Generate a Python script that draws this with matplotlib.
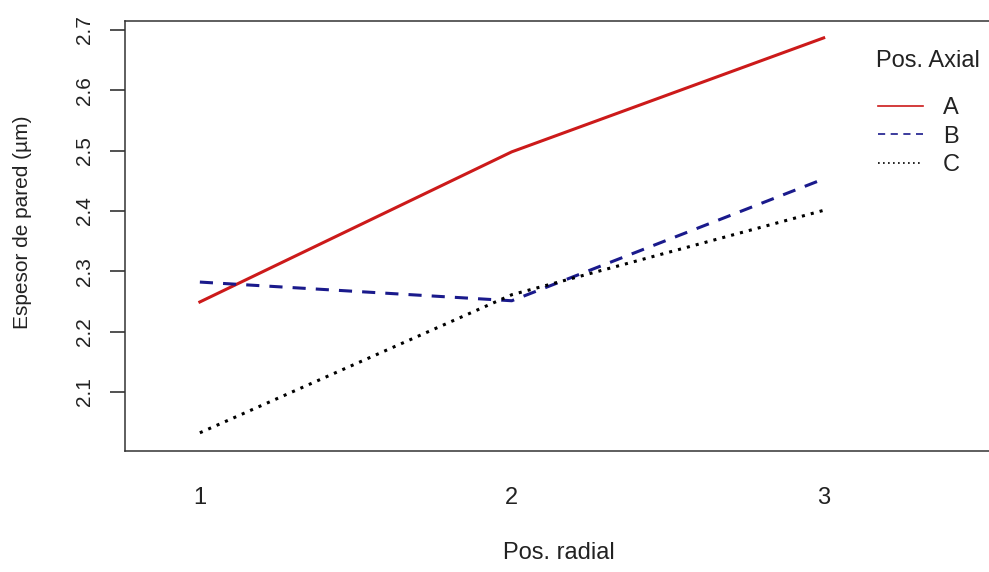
import matplotlib
matplotlib.use("Agg")
import matplotlib.pyplot as plt

plt.rcParams['font.family'] = ['Liberation Sans', 'DejaVu Sans']

# data
pos_radial = [1, 2, 3]
grupos = ['A', 'B', 'C']
esp_A = [2.249, 2.498, 2.687]
esp_B = [2.282, 2.251, 2.453]
esp_C = [2.032, 2.261, 2.401]

colores = ['#cc1a1a', '#1a1a8c', '#000000']
estilos = ['-', (0, (4.3, 3.3)), (0, (1, 2))]

W, H = 989, 572
fig = plt.figure(figsize=(W/100, H/100), dpi=100)
ax = fig.add_axes([125/W, 1 - 451/H, 1 - 125/W, (451 - 21)/H])

for g, vals, c, ls in zip(grupos, [esp_A, esp_B, esp_C], colores, estilos):
    ax.plot(pos_radial, vals, color=c, linestyle=ls, lw=2.2, label=g)

ax.set_xlim(0.76, 3.53)
ax.set_ylim(2.0018, 2.715)
ax.set_xticks(pos_radial)
ax.set_xticklabels([str(p) for p in pos_radial])
ax.set_yticks([2.1, 2.2, 2.3, 2.4, 2.5, 2.6, 2.7])
ax.set_yticklabels(['2.1', '2.2', '2.3', '2.4', '2.5', '2.6', '2.7'],
                   rotation=90, va='center')
ax.tick_params(axis='x', length=0, pad=26, labelsize=17, colors='#222222')
ax.tick_params(axis='y', length=10.5, width=1.1, pad=12, labelsize=15, colors='#222222')

for s in ['left', 'bottom', 'top']:
    ax.spines[s].set_color('#333333')
    ax.spines[s].set_linewidth(1.1)
ax.spines['right'].set_visible(False)

fig.text(23/W, 1 - 222/H, 'Espesor de pared (µm)', rotation=90,
         ha='center', va='center', fontsize=15, color='#222222')
fig.text(503/W, 1 - 553/H, 'Pos. radial', ha='left', va='center',
         fontsize=17, color='#222222')

# legend title placed separately so the gap to the entries can be set
fig.text(876/W, 1 - 61/H, 'Pos. Axial', ha='left', va='center',
         fontsize=17, color='#222222')
leg = ax.legend(loc='upper left', bbox_to_anchor=(878/W, 1 - 97/H),
                bbox_transform=fig.transFigure, frameon=False,
                fontsize=17, handlelength=1.9, handletextpad=0.85,
                labelspacing=0.28, borderpad=0, borderaxespad=0)
for h in leg.get_lines():
    h.set_linewidth(1.2)
for t in leg.get_texts():
    t.set_color('#222222')

fig.savefig('out.png', dpi=100)
